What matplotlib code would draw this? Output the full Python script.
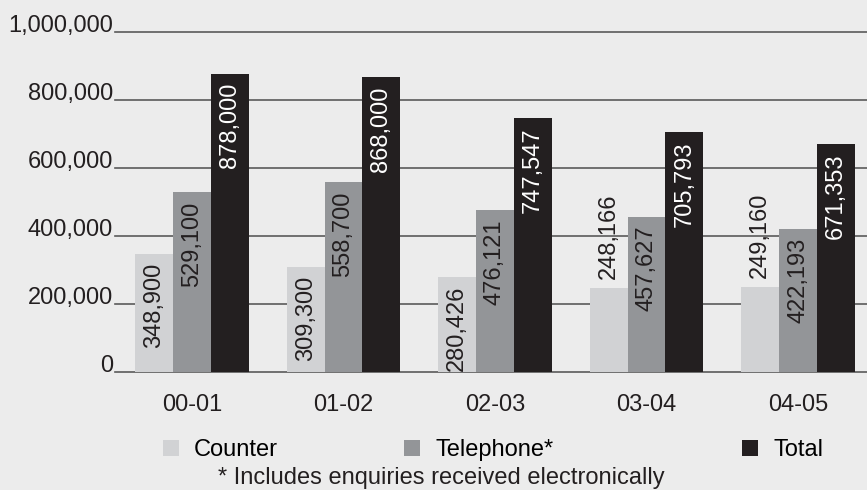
import numpy as np
import matplotlib.pyplot as plt

plt.rcParams['font.family'] = ['Liberation Sans', 'DejaVu Sans']

years = ["00-01", "01-02", "02-03", "03-04", "04-05"]
counter = [348900, 309300, 280426, 248166, 249160]
telephone = [529100, 558700, 476121, 457627, 422193]
total = [878000, 868000, 747547, 705793, 671353]
y_ticks = [0, 200000, 400000, 600000, 800000, 1000000]

# name, values, bar colour, value label colour
series = [
    ("Counter", counter, "#d1d2d4", "#231f20"),
    ("Telephone*", telephone, "#939598", "#231f20"),
    ("Total", total, "#231f20", "white"),
]

bg = "#ececec"
fig = plt.figure(figsize=(8.67, 4.9), dpi=100, facecolor=bg)
ax = fig.add_axes([0.1326, 0.2408, 0.8674, 0.6929])
ax.set_facecolor(bg)

x = np.arange(len(years))
width = 0.25
legend_x = [0.188, 0.466, 0.856]

for i, (name, values, color, text_color) in enumerate(series):
    pos = x + (i - 1) * width
    bars = ax.bar(pos, values, width, color=color, label=name, zorder=2)
    for xp, v in zip(pos, values):
        # short bars get their label on top, the rest inside
        if v > 265000:
            ax.annotate(f"{v:,}", (xp, v), xytext=(0, -6.5), textcoords="offset points",
                        rotation=90, ha="center", va="top", color=text_color, fontsize=17, zorder=3)
        else:
            ax.annotate(f"{v:,}", (xp, v), xytext=(0, 6.5), textcoords="offset points",
                        rotation=90, ha="center", va="bottom", color=text_color, fontsize=17, zorder=3)
    fig.legend(handles=[bars], labels=[name], loc="center left",
               bbox_to_anchor=(legend_x[i], 0.0816), frameon=False,
               borderpad=0, borderaxespad=0, handlelength=0.68, handleheight=0.68,
               handletextpad=0.64, fontsize=17)

ax.set_xlim(-0.508, 4.455)
ax.set_ylim(0, 1000000)
ax.set_xticks(x)
ax.set_xticklabels(years)
ax.set_yticks(y_ticks)
ax.set_yticklabels([f"{t:,}" for t in y_ticks])
for lbl in ax.get_yticklabels():
    lbl.set_verticalalignment("baseline")

ax.tick_params(axis="both", length=0, labelsize=17, colors="#231f20")
ax.tick_params(axis="x", pad=16)
ax.tick_params(axis="y", pad=1.5)

ax.set_axisbelow(True)
ax.yaxis.grid(True, color="#5a5a5a", linewidth=1.2)
for gl in ax.get_ygridlines():
    gl.set_clip_on(False)
for s in ax.spines.values():
    s.set_visible(False)

fig.text(218 / 867, 6 / 490, "* Includes enquiries received electronically",
         fontsize=17, va="baseline", color="#231f20")

fig.savefig("out.png", dpi=100, facecolor=bg)
